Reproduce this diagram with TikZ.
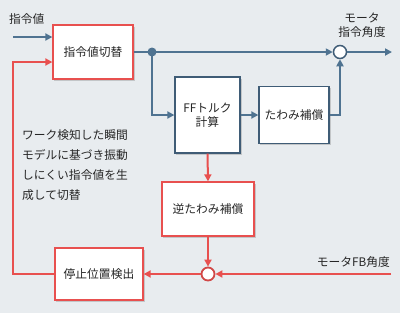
\documentclass[tikz,border=0pt]{standalone}
\usepackage{fontspec}
\setmainfont{Noto Sans CJK JP}
\usetikzlibrary{arrows.meta,shadows}
\definecolor{bg}{HTML}{E8ECEF}
\definecolor{bl}{HTML}{4F7391}
\definecolor{bldk}{HTML}{3F5C76}
\definecolor{rd}{HTML}{E8504F}
\begin{document}
\begin{tikzpicture}[x=1bp,y=-1bp,
  every node/.style={font=\fontsize{11.8}{14}\selectfont, text=black!85},
  rbox/.style={draw=rd, line width=1.3bp, fill=white, drop shadow={shadow xshift=1.5bp, shadow yshift=-1.5bp, opacity=0.35}},
  bbox/.style={draw=bldk, line width=1.3bp, fill=white, drop shadow={shadow xshift=1.5bp, shadow yshift=-1.5bp, opacity=0.35}},
  bline/.style={draw=bl, line width=2bp},
  rline/.style={draw=rd, line width=2bp},
  barr/.style={bline, -{Triangle[length=7bp,width=7bp]}},
  rarr/.style={rline, -{Triangle[length=7bp,width=7bp]}},
  lbl/.style={inner sep=0pt}
]
\fill[bg] (0,0) rectangle (400,313);
\useasboundingbox (0,0) rectangle (400,313);

% boxes
\node[rbox, minimum width=80bp, minimum height=54bp] (sw) at (93,52) {指令値切替};
\node[bbox, minimum width=65bp, minimum height=76bp, align=center] (ff) at (207.5,115) {FFトルク\\計算};
\node[bbox, minimum width=70bp, minimum height=57bp] (tw) at (294,115) {たわみ補償};
\node[rbox, minimum width=92bp, minimum height=54bp] (itw) at (208,209) {逆たわみ補償};
\node[rbox, minimum width=88bp, minimum height=52bp] (stop) at (99,274) {停止位置検出};

% sum circles
\node[circle, draw=bldk, line width=1.5bp, fill=white, minimum size=13bp, inner sep=0pt] (s1) at (340,52) {};
\node[circle, draw=rd!90!black, line width=1.8bp, fill=white, minimum size=13bp, inner sep=0pt] (s2) at (208,274) {};
\coordinate (j) at (152,52);
\fill[bl] (j) circle (4.5bp);

% labels
\node[lbl, anchor=west] (lin) at (9,19) {指令値};
\node[lbl, align=center] (lout) at (362,25) {モータ\\指令角度};
\node[lbl, anchor=east] (lfb) at (390,262) {モータFB角度};
\node[lbl, anchor=north west, align=left, font=\fontsize{11.8}{20.3}\selectfont] (cm) at (22,129) {ワーク検知した瞬間\\モデルに基づき振動\\しにくい指令値を生\\成して切替};

% blue connectors
\coordinate (in0) at (13,37);
\draw[barr] (in0) -- (in0 -| sw.west);
\draw[bline] (sw.east) -- (j);
\draw[barr] (j) -- (s1.west);
\coordinate (out) at (392,52);
\draw[barr] (s1.east) -- (out);
\draw[barr] (j) |- (ff.west);
\draw[barr] (ff.east) -- (tw.west);
\draw[barr] (tw.east) -| (s1.south);

% red connectors
\draw[rarr] (ff.south) -- (itw.north);
\draw[rarr] (itw.south) -- (s2.north);
\coordinate (fb0) at (391,274);
\draw[rarr] (fb0) -- (s2.east);
\draw[rarr] (s2.west) -- (stop.east);
\coordinate (c1) at (13,274);
\coordinate (c2) at (13,62);
\draw[rarr] (stop.west) -- (c1) -- (c2) -- (c2 -| sw.west);
\end{tikzpicture}
\end{document}
